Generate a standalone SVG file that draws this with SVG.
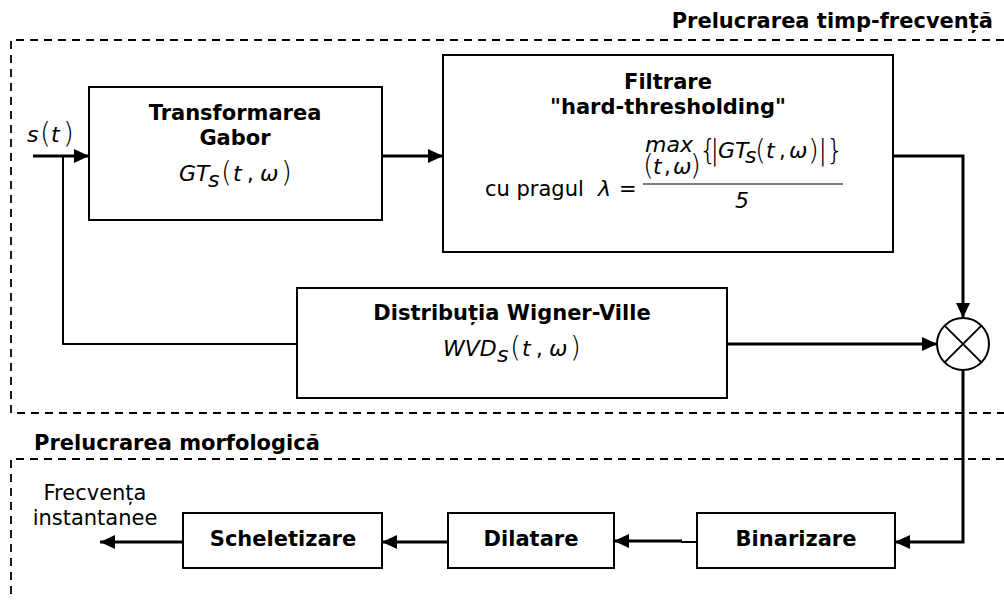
<svg xmlns="http://www.w3.org/2000/svg" width="1004" height="600" viewBox="0 0 1004 600">
  <style>
    .box { fill: #fff; stroke: #000; stroke-width: 2; }
    .dash { fill: none; stroke: #000; stroke-width: 1.8; stroke-dasharray: 8 6; }
    .wire { fill: none; stroke: #000; stroke-width: 3; }
    .thin { fill: none; stroke: #000; stroke-width: 2; }
    .lbl { font-family: "DejaVu Sans", Verdana, sans-serif; font-weight: bold; font-size: 21px; fill: #000; }
    .txt { font-family: "DejaVu Sans", Verdana, sans-serif; font-size: 21px; fill: #000; }
    .m { font-family: "DejaVu Sans", Verdana, sans-serif; font-style: italic; font-size: 22px; fill: #000; }
    .p { font-family: "DejaVu Sans", Verdana, sans-serif; font-style: normal; font-weight: 200; font-size: 28px; fill: #000; }
  </style>
  <defs>
    <marker id="arr" markerWidth="15" markerHeight="14" refX="15" refY="7" orient="auto" markerUnits="userSpaceOnUse">
      <path d="M0,0 L15,7 L0,14 z" fill="#000"/>
    </marker>
  </defs>

  <rect width="1004" height="600" fill="#fff"/>

  <!-- processing stage frames -->
  <g id="stage-tf">
    <path class="dash" d="M1004,40 H11 V413 H1004"/>
    <text class="lbl" x="993" y="28" text-anchor="end">Prelucrarea timp-frecvență</text>
  </g>
  <g id="stage-morph">
    <path class="dash" d="M1004,459 H11 V600"/>
    <text class="lbl" x="34" y="450">Prelucrarea morfologică</text>
  </g>

  <!-- input signal s(t) -->
  <g id="input">
    <text class="m" x="27" y="142">s</text>
    <text class="p" x="40" y="143">(</text>
    <text class="m" x="51" y="142">t</text>
    <text class="p" x="63" y="143">)</text>
  </g>

  <g id="connectors">
    <path class="wire" d="M33,156 H89" marker-end="url(#arr)"/>
    <path class="thin" d="M63,156 V344 H297"/>
    <path class="wire" d="M382,156 H443" marker-end="url(#arr)"/>
    <path class="wire" d="M893,156 H963 V318" marker-end="url(#arr)"/>
    <path class="wire" d="M727,344 H937" marker-end="url(#arr)"/>
    <path class="wire" d="M963,369 V542 H895" marker-end="url(#arr)"/>
    <path class="thin" d="M697,542 H681"/>
    <path class="wire" d="M682,541 H614" marker-end="url(#arr)"/>
    <path class="wire" d="M448,542 H382" marker-end="url(#arr)"/>
    <path class="wire" d="M183,542 H100" marker-end="url(#arr)"/>
  </g>

  <!-- Gabor transform -->
  <g id="gabor">
    <rect class="box" x="89" y="87" width="293" height="133"/>
    <text class="lbl" x="235" y="120" text-anchor="middle">Transformarea</text>
    <text class="lbl" x="235" y="145" text-anchor="middle">Gabor</text>
    <text class="m" x="179" y="181">GT</text>
    <text class="m" x="208" y="187" font-size="17">s</text>
    <text class="p" x="221" y="182">(</text>
    <text class="m" x="233" y="181">t</text>
    <text class="txt" x="247" y="181" font-size="22">,</text>
    <text class="m" x="260" y="181">ω</text>
    <text class="p" x="281" y="182">)</text>
  </g>

  <!-- hard-thresholding filter with threshold formula -->
  <g id="filter">
    <rect class="box" x="443" y="55" width="450" height="197"/>
    <text class="lbl" x="668" y="89" text-anchor="middle">Filtrare</text>
    <text class="lbl" x="668" y="114" text-anchor="middle">"hard-thresholding"</text>
    <text class="txt" x="485" y="196" font-size="17">cu pragul</text>
    <text class="m" x="598" y="196" font-size="21">λ</text>
    <text class="txt" x="619" y="196" font-size="19">=</text>
    <text class="m" x="645" y="152" font-size="20">max</text>
    <text class="p" x="643" y="175" font-size="20">(</text>
    <text class="m" x="653" y="174" font-size="18">t</text>
    <text class="txt" x="664" y="174" font-size="18">,</text>
    <text class="m" x="673" y="174" font-size="18">ω</text>
    <text class="p" x="690" y="175" font-size="20">)</text>
    <text class="p" x="699" y="160" font-size="26">{</text>
    <text class="p" x="710" y="160" font-size="23">|</text>
    <text class="m" x="718" y="158" font-size="20">GT</text>
    <text class="m" x="745" y="163" font-size="16">s</text>
    <text class="p" x="755" y="160" font-size="25">(</text>
    <text class="m" x="766" y="158" font-size="20">t</text>
    <text class="txt" x="779" y="158" font-size="20">,</text>
    <text class="m" x="789" y="158" font-size="20">ω</text>
    <text class="p" x="808" y="160" font-size="25">)</text>
    <text class="p" x="818" y="160" font-size="23">|</text>
    <text class="p" x="826" y="160" font-size="26">}</text>
    <line x1="643" y1="184" x2="843" y2="184" stroke="#000" stroke-width="1.2"/>
    <text class="m" x="735" y="208" font-size="21">5</text>
  </g>

  <!-- Wigner-Ville distribution -->
  <g id="wigner">
    <rect class="box" x="297" y="288" width="430" height="110"/>
    <text class="lbl" x="512" y="320" text-anchor="middle">Distribuția Wigner-Ville</text>
    <text class="m" x="443" y="356">WVD</text>
    <text class="m" x="497" y="362" font-size="17">s</text>
    <text class="p" x="510" y="357">(</text>
    <text class="m" x="522" y="356">t</text>
    <text class="txt" x="536" y="356" font-size="22">,</text>
    <text class="m" x="549" y="356">ω</text>
    <text class="p" x="570" y="357">)</text>
  </g>

  <!-- multiplier -->
  <g id="mult">
    <circle cx="963" cy="344" r="26" fill="#fff" stroke="#000" stroke-width="2"/>
    <path class="thin" d="M944.6,325.6 L981.4,362.4 M981.4,325.6 L944.6,362.4"/>
  </g>

  <!-- morphological chain -->
  <g id="binarizare">
    <rect class="box" x="697" y="513" width="198" height="55"/>
    <text class="lbl" x="796" y="546" text-anchor="middle">Binarizare</text>
  </g>
  <g id="dilatare">
    <rect class="box" x="448" y="513" width="166" height="55"/>
    <text class="lbl" x="531" y="546" text-anchor="middle">Dilatare</text>
  </g>
  <g id="scheletizare">
    <rect class="box" x="183" y="513" width="199" height="55"/>
    <text class="lbl" x="283" y="546" text-anchor="middle">Scheletizare</text>
  </g>

  <g id="output">
    <text class="txt" x="95" y="500" text-anchor="middle">Frecvența</text>
    <text class="txt" x="95" y="525" text-anchor="middle">instantanee</text>
  </g>
</svg>
